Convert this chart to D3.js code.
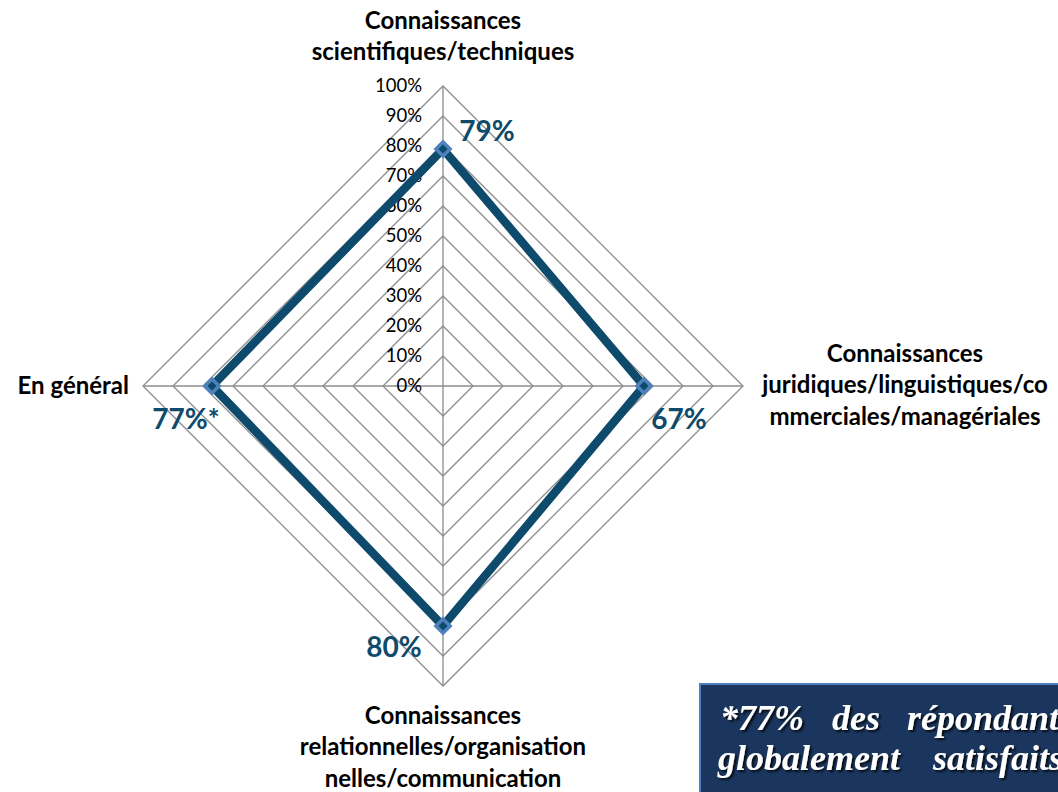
<!DOCTYPE html>
<html>
<head>
<meta charset="utf-8">
<script src="https://cdn.jsdelivr.net/npm/d3@7"></script>
<style>
  body { margin: 0; background: #fff; overflow: hidden; }
  svg { display: block; }
</style>
</head>
<body>
<div id="chart"></div>
<script>
// Data
const axes = [
  ["Connaissances", "scientifiques/techniques"],
  ["Connaissances", "juridiques/linguistiques/co", "mmerciales/managériales"],
  ["Connaissances", "relationnelles/organisation", "nelles/communication"],
  ["En général"]
];
const values = [0.79, 0.67, 0.80, 0.77];
const valueLabels = ["79%", "67%", "80%", "77%*"];
const ticks = [0, 0.1, 0.2, 0.3, 0.4, 0.5, 0.6, 0.7, 0.8, 0.9, 1.0];
const noteLines = [["*77%", "des", "répondants"], ["globalement", "satisfaits"]];

const W = 1058, H = 792;
const cx = 443, cy = 386, R = 300;
const font = "Lato, 'Open Sans', sans-serif";
const lineColor = "#0e4a6c";

const svg = d3.select("#chart").append("svg")
  .attr("width", W).attr("height", H);

const r = d3.scaleLinear().domain([0, 1]).range([0, R]);
const angle = i => -Math.PI / 2 + i * 2 * Math.PI / axes.length;
const pt = (i, v) => [cx + r(v) * Math.cos(angle(i)), cy + r(v) * Math.sin(angle(i))];

// grid rings
const g = svg.append("g");
g.selectAll("path.ring").data(ticks.slice(1)).enter().append("path")
  .attr("class", "ring")
  .attr("d", t => d3.line()(axes.map((a, i) => pt(i, t))) + "Z")
  .attr("fill", "none").attr("stroke", "#8c8c8c").attr("stroke-width", 1.3);

// spokes
g.selectAll("line.spoke").data(axes).enter().append("line")
  .attr("x1", cx).attr("y1", cy)
  .attr("x2", (d, i) => pt(i, 1)[0]).attr("y2", (d, i) => pt(i, 1)[1])
  .attr("stroke", "#8c8c8c").attr("stroke-width", 1.3);

// tick labels
g.selectAll("text.tick").data(ticks).enter().append("text")
  .attr("x", cx - 21).attr("y", t => cy - r(t))
  .attr("dy", "0.35em")
  .attr("text-anchor", "end")
  .attr("font-family", font).attr("font-size", 18.5).attr("fill", "#000")
  .text(d3.format(".0%"));

// series line
const pts = values.map((v, i) => pt(i, v));
svg.append("path")
  .attr("d", d3.line()(pts) + "Z")
  .attr("fill", "none").attr("stroke", lineColor)
  .attr("stroke-width", 8.5).attr("stroke-linejoin", "miter");

// markers
svg.selectAll("rect.mk").data(pts).enter().append("rect")
  .attr("x", -5).attr("y", -5).attr("width", 10).attr("height", 10)
  .attr("transform", d => `translate(${d[0]},${d[1]}) rotate(45)`)
  .attr("fill", lineColor).attr("stroke", "#4f81bd").attr("stroke-width", 3.5);

// value labels
const valOffsets = [[44, -18], [35, 33], [-49, 21], [-26, 33]];
svg.selectAll("text.val").data(values).enter().append("text")
  .attr("x", (d, i) => pts[i][0] + valOffsets[i][0])
  .attr("y", (d, i) => pts[i][1] + valOffsets[i][1])
  .attr("dy", "0.35em").attr("text-anchor", "middle")
  .attr("font-family", font).attr("font-weight", "bold").attr("font-size", 28)
  .attr("fill", lineColor)
  .text((d, i) => valueLabels[i]);

// category labels
const catPos = [
  {x: cx, y: 21, anchor: "middle"},
  {x: 905, y: 354, anchor: "middle"},
  {x: cx, y: 716, anchor: "middle"},
  {x: 129, y: 386, anchor: "end"}
];
axes.forEach((lines, i) => {
  const t = svg.append("text")
    .attr("font-family", font).attr("font-weight", "bold").attr("font-size", 24)
    .attr("fill", "#000").attr("text-anchor", catPos[i].anchor);
  lines.forEach((l, j) => {
    t.append("tspan").attr("x", catPos[i].x).attr("y", catPos[i].y + j * 31.5)
      .attr("dy", "0.32em").text(l);
  });
});

// note box
const defs = svg.append("defs");
const f = defs.append("filter").attr("id", "sh").attr("x", "-10%").attr("y", "-20%")
  .attr("width", "130%").attr("height", "150%");
f.append("feDropShadow").attr("dx", 2).attr("dy", 2).attr("stdDeviation", 1.2)
  .attr("flood-color", "#000").attr("flood-opacity", 0.8);

svg.append("rect")
  .attr("x", 700).attr("y", 684).attr("width", 420).attr("height", 160)
  .attr("fill", "#1b365e").attr("stroke", "#4f7fbf").attr("stroke-width", 2);

const wordX = [[720, 832, 907], [718, 933]];
noteLines.forEach((words, li) => {
  words.forEach((w, wi) => {
    svg.append("text")
      .attr("x", wordX[li][wi]).attr("y", 730 + li * 40)
      .attr("font-family", "'Liberation Serif', 'Times New Roman', serif")
      .attr("font-style", "italic").attr("font-weight", "bold")
      .attr("font-size", 36).attr("fill", "#fff")
      .attr("filter", "url(#sh)")
      .text(w);
  });
});
</script>
</body>
</html>
